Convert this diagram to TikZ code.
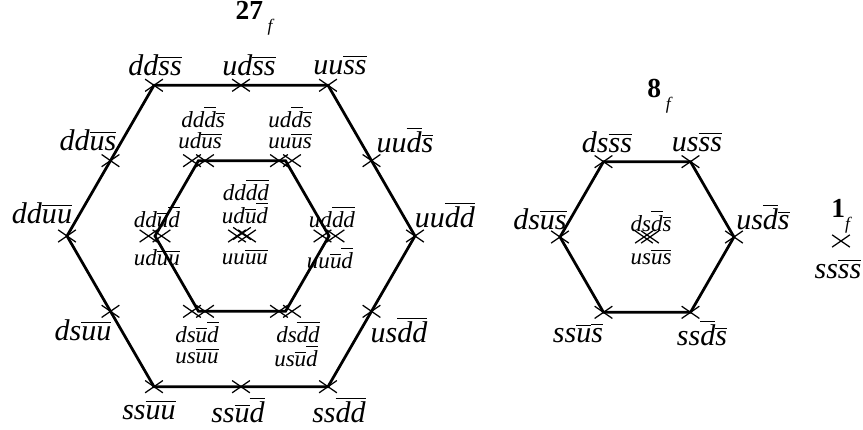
\documentclass[tikz,border=0pt]{standalone}
\usepackage{fontspec}
\setmainfont{Liberation Serif}
\usetikzlibrary{shapes.misc}
\newcommand{\ob}[1]{$\overline{\mbox{#1}}$}
\newcommand{\flav}{\raisebox{-0.9ex}{\fontsize{7}{7}\selectfont\mdseries\itshape f}}

\tikzset{
  hex/.style={line width=1.1pt, line join=miter},
  mk/.style={draw, cross out, minimum width=6.6pt, minimum height=4.4pt,
    inner sep=0pt, line width=0.5pt},
  lab/.style={font=\fontsize{12}{12}\selectfont\itshape, inner sep=0pt},
  slab/.style={font=\fontsize{9.2}{9.2}\selectfont\itshape, inner sep=0pt},
  ttl/.style={font=\fontsize{11}{11}\selectfont\bfseries, inner sep=0pt, anchor=base west}
}

\begin{document}
\begin{tikzpicture}[x=0.4pt,y=-0.4pt]
  \useasboundingbox (0,0) rectangle (863,430);

  % centres of the three multiplets
  \coordinate (oc) at (241,236);
  \coordinate (ic) at (242,236);
  \coordinate (ec) at (647,237);
  \foreach \n/\a in {r/0,br/60,bl/120,l/180,tl/240,tr/300}{
    \coordinate (o\n) at ([shift={(\a:174)}]oc);
    \coordinate (i\n) at ([shift={(\a:87)}]ic);
    \coordinate (e\n) at ([shift={(\a:87)}]ec);
  }

  % hexagons
  \draw[hex] (otl) -- (otr) -- (or) -- (obr) -- (obl) -- (ol) -- cycle;
  \draw[hex] (itl) -- (itr) -- (ir) -- (ibr) -- (ibl) -- (il) -- cycle;
  \draw[hex] (etl) -- (etr) -- (er) -- (ebr) -- (ebl) -- (el) -- cycle;

  % weights
  \foreach \n in {r,br,bl,l,tl,tr}{
    \node[mk] (mo\n) at (o\n) {};
    \node[mk] (mi\n a) at ([xshift=-2.6pt]i\n) {};
    \node[mk] (mi\n b) at ([xshift=2.6pt]i\n) {};
    \node[mk] (me\n) at (e\n) {};
  }
  \foreach \a in {30,90,...,330}
    \node[mk] (mm\a) at ([shift={(\a:150.7)}]oc) {};
  \node[mk] (mc1) at ([xshift=-2pt]ic) {};
  \node[mk] (mc2) at ([yshift=1pt]ic) {};
  \node[mk] (mc3) at ([xshift=2pt]ic) {};
  \node[mk] (me1) at ([xshift=-1.2pt]ec) {};
  \node[mk] (me2) at ([xshift=1.2pt]ec) {};
  \node[mk] (ms) at (841,241) {};

  % titles
  \node[ttl] (t27) at (235,20) {27\,\flav};
  \node[ttl] (t8) at (647,98) {8\,\flav};
  \node[ttl] (t1) at (831,218) {1\flav};

  % 27 - outer ring
  \node[lab] (o-ddss) at (155,65) {dd\ob{s}\ob{s}};
  \node[lab] (o-udss) at (249,65) {ud\ob{s}\ob{s}};
  \node[lab] (o-uuss) at (340,65) {uu\ob{s}\ob{s}};
  \node[lab] (o-ddus) at (88,140) {dd\ob{u}\ob{s}};
  \node[lab] (o-uuds) at (405,140) {uu\ob{d}\ob{s}};
  \node[lab] (o-dduu) at (42,213) {dd\ob{u}\ob{u}};
  \node[lab] (o-uudd) at (445,215) {uu\ob{d}\ob{d}};
  \node[lab] (o-dsuu) at (83,330) {ds\ob{u}\ob{u}};
  \node[lab] (o-usdd) at (399,330) {us\ob{d}\ob{d}};
  \node[lab] (o-ssuu) at (149,410) {ss\ob{u}\ob{u}};
  \node[lab] (o-ssud) at (238,410) {ss\ob{u}\ob{d}};
  \node[lab] (o-ssdd) at (339,410) {ss\ob{d}\ob{d}};

  % 27 - inner ring and centre
  \node[slab] (i-ddds) at (203,117) {dd\ob{d}\ob{s}};
  \node[slab] (i-udus) at (200,141) {ud\ob{u}\ob{s}};
  \node[slab] (i-udds) at (290,117) {ud\ob{d}\ob{s}};
  \node[slab] (i-uuus) at (290,141) {uu\ob{u}\ob{s}};
  \node[slab] (i-ddud) at (157,217) {dd\ob{u}\ob{d}};
  \node[slab] (i-uduu) at (157,258) {ud\ob{u}\ob{u}};
  \node[slab] (i-uddd) at (332,217) {ud\ob{d}\ob{d}};
  \node[slab] (i-uuud) at (330,258) {uu\ob{u}\ob{d}};
  \node[slab] (c-dddd) at (246,190) {dd\ob{d}\ob{d}};
  \node[slab] (c-udud) at (245,213) {ud\ob{u}\ob{d}};
  \node[slab] (c-uuuu) at (245,257) {uu\ob{u}\ob{u}};
  \node[slab] (i-dsud) at (197,332) {ds\ob{u}\ob{d}};
  \node[slab] (i-usuu) at (197,356) {us\ob{u}\ob{u}};
  \node[slab] (i-dsdd) at (298,332) {ds\ob{d}\ob{d}};
  \node[slab] (i-usud) at (296,356) {us\ob{u}\ob{d}};

  % 8
  \node[lab] (e-dsss) at (607,142) {ds\ob{s}\ob{s}};
  \node[lab] (e-usss) at (697,142) {us\ob{s}\ob{s}};
  \node[lab] (e-dsus) at (540,219) {ds\ob{u}\ob{s}};
  \node[lab] (e-usds) at (763,217) {us\ob{d}\ob{s}};
  \node[slab] (e-dsds) at (651,221) {ds\ob{d}\ob{s}};
  \node[slab] (e-usus) at (651,257) {us\ob{u}\ob{s}};
  \node[lab] (e-ssus) at (578,333) {ss\ob{u}\ob{s}};
  \node[lab] (e-ssds) at (702,333) {ss\ob{d}\ob{s}};

  % 1
  \node[lab] (s-ssss) at (838,269) {ss\ob{s}\ob{s}};
\end{tikzpicture}
\end{document}
